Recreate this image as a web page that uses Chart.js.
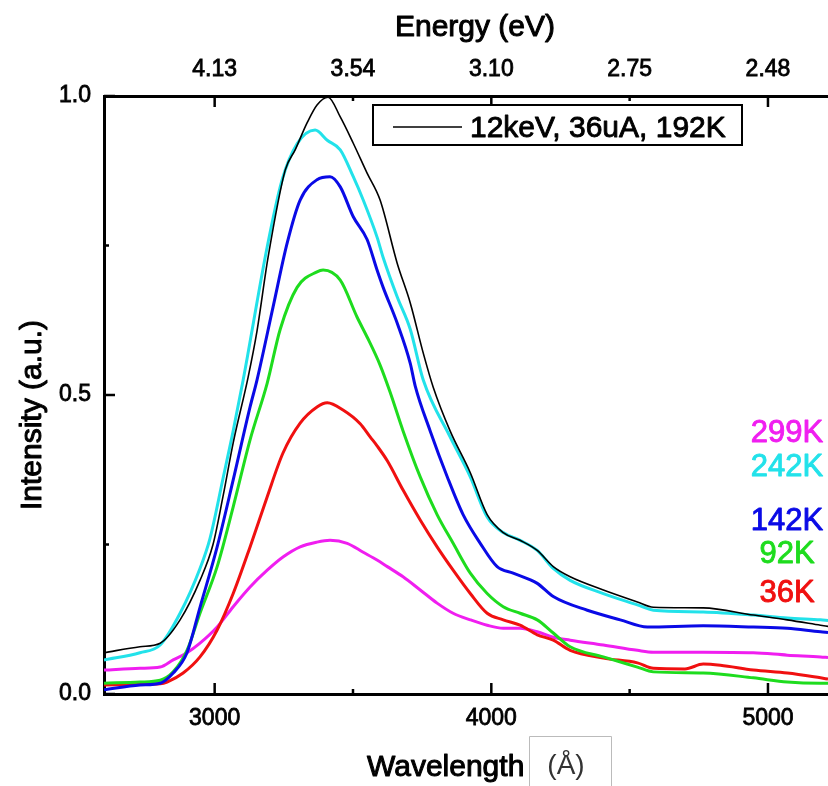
<!DOCTYPE html>
<html><head><meta charset="utf-8">
<script src="https://cdn.jsdelivr.net/npm/chart.js@4.4.1/dist/chart.umd.min.js"></script>
<style>html,body{margin:0;padding:0;background:#fff;overflow:hidden}canvas{display:block}</style>
</head><body>
<canvas id="c" width="828" height="786" style="width:828px;height:786px"></canvas>
<script>
// ---- data (wavelength in Å, normalised intensity) ----
const wl_192K = [2600,2730,2803,2875,2947,2994,3030,3067,3121,3153,3193,3255,3291,3334,3370,3410,3454,3501,3551,3598,3660,3707,3754,3790,3851,3924,3985,4043,4104,4166,4224,4285,4405,4528,4586,4766,4947,5070,5190,5217];
const in_192K = [0.069,0.079,0.085,0.124,0.19,0.25,0.33,0.42,0.53,0.607,0.73,0.876,0.91,0.955,0.985,0.998,0.965,0.921,0.871,0.826,0.72,0.654,0.57,0.513,0.44,0.37,0.30,0.27,0.257,0.24,0.213,0.196,0.174,0.154,0.145,0.144,0.132,0.124,0.115,0.113];

const wl_242K = [2600,2730,2803,2875,2947,2983,3030,3067,3103,3190,3244,3298,3363,3407,3454,3501,3537,3587,3609,3660,3707,3754,3851,3924,3985,4043,4104,4166,4224,4285,4405,4528,4586,4766,4947,5070,5190,5217];
const in_242K = [0.057,0.069,0.082,0.135,0.21,0.26,0.36,0.44,0.525,0.748,0.86,0.92,0.943,0.926,0.91,0.865,0.826,0.764,0.73,0.664,0.61,0.525,0.43,0.363,0.296,0.27,0.257,0.24,0.21,0.19,0.168,0.149,0.14,0.137,0.132,0.127,0.124,0.123];

const wl_142K = [2600,2730,2803,2850,2900,2947,3009,3067,3128,3153,3211,3262,3309,3370,3417,3454,3501,3551,3587,3609,3660,3707,3725,3779,3841,3898,3960,4021,4079,4166,4224,4347,4466,4564,4766,4947,5070,5190,5217];
const in_142K = [0.007,0.015,0.018,0.035,0.069,0.145,0.246,0.358,0.48,0.525,0.647,0.754,0.826,0.86,0.865,0.848,0.798,0.76,0.709,0.68,0.62,0.553,0.515,0.44,0.363,0.30,0.252,0.213,0.202,0.185,0.163,0.14,0.124,0.112,0.114,0.112,0.11,0.104,0.103];

const wl_92K = [2600,2730,2803,2850,2900,2947,3009,3067,3128,3190,3237,3298,3370,3392,3454,3515,3551,3598,3634,3681,3743,3804,3862,3924,3985,4043,4104,4166,4224,4285,4405,4528,4586,4766,4947,5070,5190,5217];
const in_92K = [0.018,0.02,0.023,0.037,0.073,0.135,0.213,0.313,0.425,0.52,0.61,0.68,0.706,0.709,0.692,0.63,0.597,0.55,0.505,0.44,0.363,0.30,0.252,0.202,0.168,0.146,0.135,0.124,0.102,0.079,0.062,0.045,0.037,0.035,0.027,0.02,0.018,0.018];

const wl_36K = [2600,2730,2803,2828,2886,2947,3009,3067,3128,3190,3247,3309,3370,3407,3464,3526,3562,3587,3624,3681,3743,3804,3862,3924,3985,4043,4104,4166,4224,4285,4405,4528,4586,4700,4766,4828,4947,5070,5190,5217];
const in_36K = [0.015,0.016,0.017,0.02,0.035,0.062,0.107,0.168,0.246,0.33,0.403,0.453,0.48,0.487,0.475,0.452,0.43,0.415,0.39,0.341,0.291,0.246,0.207,0.168,0.135,0.124,0.115,0.099,0.09,0.073,0.06,0.052,0.043,0.042,0.05,0.048,0.04,0.035,0.027,0.025];

const wl_299K = [2600,2730,2803,2850,2900,2947,3009,3067,3128,3190,3247,3309,3370,3417,3479,3537,3587,3624,3681,3743,3804,3862,3924,3985,4043,4104,4166,4224,4285,4405,4528,4586,4766,4947,5070,5190,5217];
const in_299K = [0.04,0.043,0.045,0.057,0.069,0.085,0.112,0.146,0.179,0.207,0.229,0.246,0.254,0.257,0.252,0.237,0.224,0.213,0.196,0.174,0.152,0.135,0.124,0.115,0.11,0.11,0.104,0.095,0.09,0.082,0.073,0.07,0.07,0.069,0.065,0.062,0.061];

// ---- ticks ----
const xTickValues = [3000,3500,4000,4500,5000];
const xTickLabels = ['3000','','4000','','5000'];
const energyTickLabels = ['4.13','3.54','3.10','2.75','2.48'];
const yTickValues = [0,0.25,0.5,0.75,1];
const yTickLabels = ['0.0','','0.5','','1.0'];

const legendLabel = '12keV, 36uA, 192K';
const FONT = '"Liberation Sans", Arial, Helvetica, sans-serif';

function pts(xs, ys){ return xs.map((x,i)=>({x:x,y:ys[i]})); }
function ds(label, xs, ys, color, w){
  return {label, data: pts(xs,ys), borderColor: color, backgroundColor: color,
    borderWidth: w, pointRadius: 0, fill: false, cubicInterpolationMode: 'monotone'};
}
const datasets = [
  ds(legendLabel, wl_192K, in_192K, '#000000', 1.6),
  ds('242K', wl_242K, in_242K, '#22e2ea', 3),
  ds('142K', wl_142K, in_142K, '#0a0ae6', 3),
  ds('92K',  wl_92K,  in_92K,  '#1edc1e', 3),
  ds('36K',  wl_36K,  in_36K,  '#f01010', 3),
  ds('299K', wl_299K, in_299K, '#f01ef0', 3)
];

function heavyText(ctx, txt, x, y, color, sw){
  ctx.fillStyle = color; ctx.strokeStyle = color; ctx.lineWidth = sw; ctx.lineJoin = 'round';
  ctx.fillText(txt, x, y); ctx.strokeText(txt, x, y);
}

const decor = {
  id: 'decor',
  afterDraw(chart){
    const ctx = chart.ctx, a = chart.chartArea;
    const sx = chart.scales.x, sx2 = chart.scales.x2, sy = chart.scales.y;
    ctx.save();
    ctx.strokeStyle = '#000'; ctx.lineWidth = 2.5; ctx.lineCap = 'butt';
    const seg = (x1,y1,x2,y2)=>{ctx.beginPath();ctx.moveTo(x1,y1);ctx.lineTo(x2,y2);ctx.stroke();};
    xTickValues.forEach((v,i)=>{
      const len = xTickLabels[i] ? 11 : 5;
      const p = sx.getPixelForValue(v);
      seg(p, a.bottom, p, a.bottom - len);
      const p2 = sx2.getPixelForValue(v);
      seg(p2, a.top, p2, a.top + len);
    });
    yTickValues.forEach((v,i)=>{
      const len = yTickLabels[i] ? 11 : 5;
      const p = sy.getPixelForValue(v);
      seg(a.left, p, a.left + len, p);
    });
    // legend box
    ctx.fillStyle = '#fff';
    ctx.fillRect(373,105,369,40);
    ctx.lineWidth = 2; ctx.strokeStyle = '#000';
    ctx.strokeRect(373,105,369,40);
    ctx.lineWidth = 1.6;
    seg(393,127,462,127);
    ctx.font = '30px ' + FONT;
    ctx.textAlign = 'left'; ctx.textBaseline = 'alphabetic';
    heavyText(ctx, chart.data.datasets[0].label, 470, 137, '#000', 0.9);
    // temperature labels
    const order = ['299K','242K','142K','92K','36K'];
    const baseY = [442,476,530,563,602];
    ctx.font = '31px ' + FONT; ctx.textAlign = 'center';
    order.forEach((lab,i)=>{
      const d = chart.data.datasets.find(q=>q.label===lab);
      heavyText(ctx, lab, 787, baseY[i], d.borderColor, 0.9);
    });
    // titles
    ctx.font = '30px ' + FONT; ctx.textAlign = 'center';
    heavyText(ctx, 'Energy (eV)', 475, 36, '#000', 1);
    ctx.textAlign = 'left';
    heavyText(ctx, 'Wavelength', 367, 776, '#000', 1);
    // (Å) box
    ctx.strokeStyle = '#bbb'; ctx.lineWidth = 1;
    ctx.strokeRect(529.5,736.5,82,60);
    ctx.fillStyle = '#333';
    ctx.font = '28px ' + FONT; ctx.textAlign = 'center';
    ctx.fillText('(Å)', 566, 774);
    // y title
    ctx.font = '30px ' + FONT;
    ctx.translate(41, 415); ctx.rotate(-Math.PI/2);
    ctx.textAlign = 'center';
    heavyText(ctx, 'Intensity (a.u.)', 0, 0, '#000', 1);
    ctx.restore();
  }
};

const tickFont = {family: FONT, size: 23, lineHeight: 1};
const tickCommon = {font: tickFont, color: '#000', maxRotation: 0, autoSkip: false,
  textStrokeColor: '#000', textStrokeWidth: 0.8};
new Chart(document.getElementById('c'), {
  type: 'line',
  data: {datasets},
  options: {
    responsive: false, animation: false, devicePixelRatio: 1,
    layout: {padding: 0},
    plugins: {legend: {display: false}, tooltip: {enabled: false}},
    scales: {
      x: {type: 'linear', position: 'bottom', min: 2600, max: 5217,
        grid: {display: false, drawTicks: false},
        border: {display: true, color: '#000', width: 3},
        ticks: Object.assign({}, tickCommon, {padding: 13, callback: (v,i)=>xTickLabels[i]}),
        afterBuildTicks: s=>{ s.ticks = xTickValues.map(v=>({value:v})); },
        afterFit: s=>{ s.height = 92; }
      },
      x2: {type: 'linear', position: 'top', min: 2600, max: 5217,
        grid: {display: false, drawTicks: false},
        border: {display: true, color: '#000', width: 3},
        ticks: Object.assign({}, tickCommon, {padding: 15, callback: (v,i)=>energyTickLabels[i]}),
        afterBuildTicks: s=>{ s.ticks = xTickValues.map(v=>({value:v})); },
        afterFit: s=>{ s.height = 96; }
      },
      y: {type: 'linear', position: 'left', min: 0, max: 1,
        grid: {display: false, drawTicks: false},
        border: {display: true, color: '#000', width: 3},
        ticks: Object.assign({}, tickCommon, {padding: 13, callback: (v,i)=>yTickLabels[i]}),
        afterBuildTicks: s=>{ s.ticks = yTickValues.map(v=>({value:v})); },
        afterFit: s=>{ s.width = 104; }
      }
    }
  },
  plugins: [decor]
});
</script>
</body></html>
